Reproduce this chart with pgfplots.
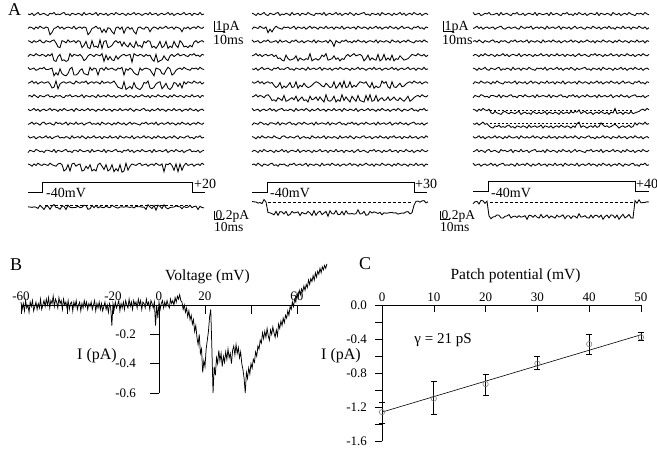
\documentclass[border=0pt]{standalone}
\usepackage{pgfplots}
\pgfplotsset{compat=1.18}
\usepackage{pgfplotstable}
\usepackage{fontspec}
\setmainfont{Liberation Serif}
\newcommand\fs[1]{\fontsize{#1}{#1}\selectfont}

% Panel A: noise patterns (n*), channel openings (o*), voltage step (st); one row per pattern, 89 samples
\pgfplotstableread[header=false]{
n1 0 1 -1 2 0 -2 1 0 -1 1  2 -1 0 -2 1 0 1 -1 -2 1  0 2 -1 0 1 -1 0 2 -2 1  0 -1 1 0 -2 2 -1 0 1 -1  2 0 -1 1 -2 0 1 -1 0 2  -1 1 0 -2 1 -1 0 2 0 -1  1 -2 1 0 -1 2 0 -1 1 0  -2 1 -1 2 0 -1 1 0 -2 1  0 -1 2 -1 0 1 -2 1 0
n2 1 -1 0 2 -1 1 -2 0 1 -1  0 2 -1 1 0 -2 1 -1 2 0  -1 0 1 -2 2 0 -1 1 -1 0  2 -1 1 0 -2 1 0 -1 2 -1  0 1 -2 1 0 -1 2 -1 0 1  -1 2 0 -2 1 0 -1 1 2 -1  0 -2 1 -1 0 2 -1 1 0 -2  1 0 -1 2 -1 0 1 -2 0 1  -1 2 0 -1 1 -2 0 1 -1
n3 -1 0 2 -1 1 0 -2 1 2 -1  0 1 -1 -2 2 0 1 -1 0 2  -2 1 0 -1 2 -1 0 1 -2 0  1 2 -1 0 -1 1 -2 2 0 -1  1 0 -2 1 -1 2 0 -1 1 -2  0 2 -1 1 0 -1 -2 1 0 2  -1 0 1 -1 2 -2 0 1 -1 0  2 -1 1 0 -2 1 -1 2 0 -1  1 -2 0 1 -1 2 0 -1 1
n4 2 -1 0 1 -2 0 1 -1 0 2  -1 1 -2 0 1 2 -1 0 -1 1  0 -2 2 -1 0 1 -1 2 0 -2  1 -1 0 2 -1 0 1 -2 1 0  -1 2 -1 0 1 -2 2 0 -1 1  0 -1 2 -2 0 1 -1 0 2 -1  1 0 -2 1 -1 2 0 -1 1 -2  0 1 -1 2 0 -2 1 0 -1 1  2 -1 0 -2 1 0 2 -1 0
n5 -2 1 0 -1 2 1 -1 0 -2 1  1 0 -1 2 -2 1 0 -1 1 2  -1 0 -2 1 1 -1 2 0 -1 0  1 -2 2 -1 0 1 0 -1 2 -2  1 0 -1 1 2 -1 0 -2 1 0  2 -1 1 -2 0 1 -1 2 0 -1  0 1 -2 2 -1 0 1 -1 0 2  -2 0 1 -1 2 0 -1 1 -2 0  1 2 -1 0 -1 1 -2 0 1
n6 1 0 -2 1 -1 2 0 -1 1 0  -1 2 0 -1 -2 1 2 0 -1 1  0 -1 1 2 -2 0 1 -1 0 -2  2 0 -1 1 -1 0 2 -2 1 0  -1 1 0 -2 2 -1 0 1 -1 2  0 -2 1 0 -1 1 2 -1 0 1  -2 0 1 -1 2 0 -1 1 -2 1  0 2 -1 0 1 -2 1 0 -1 2  -1 0 1 -2 0 1 -1 2 0
o12 0 0 0 0 0 0 0 0 0 0  0 1 1 0 0 0 0 0 0 0  0 0 0 0 0 0 0 0 0 0  1 1 0 0 0 0 0 1 0 1  0 0 1 1 0 0 0 0 1 0  0 0 0 1 1 0 0 0 0 0  0 1 0 0 0 0 0 0 0 0  0 0 0 0 0 0 0 1 0 0  0 0 0 0 0 0 0 0 0
o13 0 0 0 0 0 0 0 0 0 0  0 0 0 0 0 1 1 0 0 0  0 0 0 0 0 0 0 1 1 0  1 1 0 1 1 1 0 1 0 0  1 1 1 0 0 0 0 1 0 1  1 0 1 1 0 1 1 1 0 0  0 0 1 1 1 1 0 1 1 0  1 1 1 0 1 1 0 0 1 1  1 1 1 0 0 0 0 0 0
o14 0 0 0 0 0 0 0 0 0 0  0 0 0 1 1 0 0 1 1 1  1 0 0 0 0 0 0 0 1 1  0 0 0 0 0 0 0 0 1 0  1 0 1 1 0 1 0 0 0 0  0 0 1 0 0 0 0 0 0 0  0 0 1 1 0 1 1 1 0 1  1 0 0 0 0 0 0 0 0 0  0 0 0 0 0 0 0 0 0
o15 0 0 0 0 0 0 0 0 0 0  0 0 0 1 1 1 0 1 1 1  1 0 0 1 1 1 0 0 1 1  1 0 0 0 0 1 0 0 0 0  0 0 0 0 0 0 0 0 1 0  0 0 0 1 1 1 0 0 0 0  0 0 1 1 0 0 0 1 1 0  0 0 1 1 0 0 0 0 0 0  0 0 0 0 0 0 0 0 0
o16 0 0 0 0 0 0 0 0 0 0  0 0 1 1 0 1 0 0 0 0  0 0 0 0 0 0 0 0 0 0  0 0 0 0 0 0 0 0 0 0  0 0 0 0 0 1 1 1 0 1  1 1 1 0 1 1 1 1 0 0  0 1 1 1 0 0 0 1 1 0  1 1 1 0 0 1 0 1 0 0  0 0 0 0 0 0 0 0 0
o1c 0 0 0 0 0 0 0 0 0 0  0 0 0 0 0 0 0 0 1 1  0 1 0 0 0 0 0 1 1 0  1 0 1 1 1 0 0 0 1 0  1 1 0 1 1 1 0 1.5 1 0  1 0 0 0 0 0 0 0 0 0  0 0 0 0 0 0 0 0 1 0  0 0 0 1 0 1 0 1 0 0  0 0 0 0 0 0 0 0 0
o22 0 0 0 0 0 0 0 0 1 0  1 0 0 0 0 0 0 0 0 0  0 0 0 0 0 0 0 0 0 0  0 0 0 0 0 0 0 0 0 0  0 0 0 0 0 0 0 0 0 0  0 0 0 0 0 0 0 0 0 0  0 0 0 0 0 0 0 0 0 0  0 0 0 0 0 0 0 0 0 0  0 0 0 0 0 0 0 0 0
o23 0 0 0 0 0 0 0 0 0 0  0 0 0 0 0 0 0 0 0 0  0 0 0 0 0 0 0 0 0 0  0 0 0 0 0 0 0 0 0 0  0 1 0 0 0 0 0 0 0 0  0 0 0 0 0 0 0 0 0 0  0 0 0 0 0 0 0 0 0 0  0 0 0 0 0 0 0 0 0 0  0 0 0 0 0 0 0 0 0
o24 0 0 0 0 0 0 0 0 0 0  0 0 0 1 1 1 1 0 1 1  1 1 0 1 1 1 1 1 1 0  1 1 1 1 1 0 0 0 1 1  1 0 1 1 1 1 1 0 0 0  0 0 0 0 0 0 1 1 0 1  1 1 1 0 1 1 0 1 1 1  0 1 1 1 0 1 1 1 1 0  0 0 0 0 0 0 0 0 0
o26 0 0 0 0 0 0 0 0 0 0  0 1 1 1 0 1 1 1 1 0  1 1 0 1 1 1 0 1 1 1  1 0 0 0 0 1 1 0 1 1  1 0 1 1 0 1 0 1 1 0  1 1 1 0 0 0 0 0 1 1  0 1 1 1 1 0 0 0 1 1  0 1 1 1 0 1 1 0 0 0  0 0 0 0 0 0 0 0 0
o27 0 0 0 0 0 0 0 0 0 0  1 1 1 0 1 1 0 1 1 1  0 1 0 1 1 0 1 1 1 0  1 1 0 1 0 1 1 0 1 1  1 0 1 1 1 0 1 0 1 1  0 1 1 0 1 1 1 0 1 0  1 1 0 1 1 0 1 1 0 1  1 0 1 1 0 1 1 1 0 1  1 0 0 0 0 0 0 0 0
o38 0 0 0 0 0 0 0 0 0 1  1 1 1 1 1 1 1 1 1 1  1 1 1 1 1 1 1 1 1 1  1 1 1 1 1 1 1 1 1 1  1 1 1 1 1 1 1 1 1 1  1 0 1 0 1 1 1 1 1 1  1 1 1 1 1 1 1 1 1 1  1 0 1 1 1 1 1 1 1 1  1 1 1 0 0 0 0 0 0
o39 0 0 0 0 0 0 0 0 1 1  1 1 1 1 1 1 1 1 1 1  1 1 1 1 1 1 1 1 1 1  1 1 1 1 1 1 1 1 1 1  1 1 1 1 1 1 1 1 1 1  1 1 0 0 1 1 1 1 1 1  1 1 1 1 0 0 1 1 1 1  1 0 1 1 1 1 1 1 1 1  1 0 0 0 0 0 0 0 0
st 0 0 0 0 0 0 0 0 1 1  1 1 1 1 1 1 1 1 1 1  1 1 1 1 1 1 1 1 1 1  1 1 1 1 1 1 1 1 1 1  1 1 1 1 1 1 1 1 1 1  1 1 1 1 1 1 1 1 1 1  1 1 1 1 1 1 1 1 1 1  1 1 1 1 1 1 1 1 1 1  1 0 0 0 0 0 0 0 0
}\Araw
\pgfplotstabletranspose[colnames from=0]{\Atab}{\Araw}

\tikzset{tr/.style={black, line width=0.85pt, no marks, line join=miter}}
\newcommand\trA[4]{\addplot[tr] table[x expr={#1+2*\coordindex}, y expr={#2+(#3)*\thisrow{#4}}] {\Atab};}
\newcommand\trO[6]{\addplot[tr] table[x expr={#1+2*\coordindex}, y expr={#2+(#3)*\thisrow{#4}+(#6)*\thisrow{#5}}] {\Atab};}

\begin{document}
\begin{tikzpicture}
\path[use as bounding box] (0pt,0pt) rectangle (657pt,-450pt);

% ---------------- Panel A ----------------
\begin{axis}[at={(0pt,0pt)}, anchor=north west, scale only axis, width=657pt, height=235pt,
  xmin=0, xmax=657, ymin=0, ymax=235, y dir=reverse, hide axis, clip=false]
% group 1 (+20 mV)
\trA{28}{14}{0.75}{n1}
\trO{28}{27.7}{0.75}{n2}{o12}{5.5}
\trO{28}{41.4}{0.75}{n3}{o13}{5.5}
\trO{28}{55.1}{0.75}{n4}{o14}{5.5}
\trO{28}{68.8}{0.75}{n5}{o15}{5.5}
\trO{28}{82.5}{0.75}{n6}{o16}{5.5}
\trA{28}{96.2}{-0.75}{n1}
\trA{28}{109.9}{-0.75}{n2}
\trA{28}{123.6}{-0.75}{n3}
\trA{28}{137.3}{-0.75}{n4}
\trA{28}{151}{-0.75}{n5}
\trO{28}{164.7}{-0.75}{n6}{o1c}{5.5}
% group 2 (+30 mV)
\trA{252}{14}{0.75}{n3}
\trO{252}{27.7}{0.75}{n4}{o22}{5}
\trO{252}{41.4}{0.75}{n5}{o23}{5}
\trO{252}{55.1}{0.75}{n6}{o24}{4.3}
\trA{252}{68.8}{0.75}{n1}
\trO{252}{82.5}{-0.75}{n2}{o26}{4.3}
\trO{252}{96.2}{-0.75}{n3}{o27}{4.3}
\trA{252}{109.9}{-0.75}{n4}
\trA{252}{123.6}{-0.75}{n5}
\trA{252}{137.3}{-0.75}{n6}
\trA{252}{151}{0.75}{n2}
\trA{252}{164.7}{-0.75}{n1}
% group 3 (+40 mV)
\trA{473}{14}{0.75}{n5}
\trA{473}{27.7}{0.75}{n6}
\trA{473}{41.4}{-0.75}{n1}
\trA{473}{55.1}{0.75}{n2}
\trA{473}{68.8}{0.75}{n3}
\trA{473}{82.5}{0.75}{n4}
\trA{473}{96.2}{-0.75}{n5}
\trO{473}{109.9}{-0.75}{n6}{o38}{3}
\trO{473}{123.6}{0.75}{n1}{o39}{3}
\trA{473}{137.3}{-0.75}{n2}
\trA{473}{151}{-0.75}{n3}
\trA{473}{164.7}{-0.75}{n4}
\addplot[black, line width=0.4pt, dash pattern=on 2pt off 2pt] coordinates {(490,109.9) (632,109.9)};
\addplot[black, line width=0.4pt, dash pattern=on 2pt off 2pt] coordinates {(490,123.6) (632,123.6)};
% voltage protocols
\addplot[black, line width=0.5pt] coordinates {(28,192.5) (42,192.5) (42,182.5) (192,182.5) (192,192.5) (205,192.5)};
\addplot[black, line width=0.5pt] coordinates {(252,192) (267,192) (267,182.5) (414,182.5) (414,192) (427,192)};
\addplot[black, line width=0.5pt] coordinates {(473,191.5) (488,191.5) (488,181) (635,181) (635,191.5) (649,191.5)};
% averaged currents
\addplot[tr] table[x expr={28+2*\coordindex}, y expr={207+0.9*\thisrow{n3}+0.7*\thisrow{n6}}] {\Atab};
\addplot[tr] table[x expr={252+2*\coordindex}, y expr={202+11*\thisrow{st}+0.9*\thisrow{n2}+0.7*\thisrow{n5}}] {\Atab};
\addplot[tr] table[x expr={473+2*\coordindex}, y expr={202+14.5*\thisrow{st}+0.8*\thisrow{n4}+0.6*\thisrow{n1}}] {\Atab};
\addplot[black, line width=0.4pt, dash pattern=on 2.5pt off 2.5pt] coordinates {(45,205) (190,205)};
\addplot[black, line width=0.4pt, dash pattern=on 2.5pt off 2.5pt] coordinates {(268,202) (412,202)};
\addplot[black, line width=0.4pt, dash pattern=on 2.5pt off 2.5pt] coordinates {(490,202) (633,202)};
% scale bars
\addplot[black, line width=0.5pt] coordinates {(214,21) (214,31) (225,31)};
\addplot[black, line width=0.5pt] coordinates {(443,21) (443,31) (454,31)};
\addplot[black, line width=0.5pt] coordinates {(214,211) (214,219) (224,219)};
\addplot[black, line width=0.5pt] coordinates {(440,211) (440,219) (450,219)};
\node[anchor=base west, inner sep=0pt, font=\fs{14}] at (215.5,30) {1pA};
\node[anchor=base west, inner sep=0pt, font=\fs{14}] at (213,44) {10ms};
\node[anchor=base west, inner sep=0pt, font=\fs{14}] at (444.5,30) {1pA};
\node[anchor=base west, inner sep=0pt, font=\fs{14}] at (442,44) {10ms};
\node[anchor=base west, inner sep=0pt, font=\fs{13.5}] at (215.5,219) {0.2pA};
\node[anchor=base west, inner sep=0pt, font=\fs{13.5}] at (214,231) {10ms};
\node[anchor=base west, inner sep=0pt, font=\fs{13.5}] at (441.5,219) {0.2pA};
\node[anchor=base west, inner sep=0pt, font=\fs{13.5}] at (440,231) {10ms};
\node[anchor=base west, inner sep=0pt, font=\fs{14}] at (46,197) {-40mV};
\node[anchor=base west, inner sep=0pt, font=\fs{14}] at (270,197) {-40mV};
\node[anchor=base west, inner sep=0pt, font=\fs{14}] at (491,197) {-40mV};
\node[anchor=base west, inner sep=0pt, font=\fs{14}] at (194,188) {+20};
\node[anchor=base west, inner sep=0pt, font=\fs{14}] at (415,188) {+30};
\node[anchor=base west, inner sep=0pt, font=\fs{14}] at (636,188) {+40};
\node[anchor=base west, inner sep=0pt, font=\fs{18}] at (8,15) {A};
\end{axis}

% ---------------- Panel B ----------------
\begin{axis}[at={(21pt,-393pt)}, anchor=south west, scale only axis, width=299pt, height=88pt,
  xmin=-60, xmax=70, ymin=-0.6, ymax=0, clip=false,
  axis x line=top, axis y line=middle, axis line style={-, line width=0.6pt},
  xtick={-60,-40,-20,0,20,40,60}, xticklabels={-60,,-20,0,20,,60},
  ytick={-0.6,-0.4,-0.2}, yticklabels={-0.6,-0.4,-0.2},
  tick align=center, major tick length=9pt,
  x tick style={yshift=-4.5pt, black, line width=0.6pt}, y tick style={xshift=-4.5pt, black, line width=0.6pt},
  ticklabel style={font=\fs{13}},
  yticklabel style={anchor=east, xshift=-15pt},
  xticklabel style={anchor=base, yshift=0pt}]
\addplot[black, line width=0.75pt, no marks, line join=miter] table[row sep=\\, header=false, x expr={-60+0.5*\coordindex}, y index=0] {
0.02\\-0.03\\0.01\\-0.04\\0.03\\-0.02\\0.00\\-0.05\\0.02\\-0.01\\0.03\\-0.04\\-0.01\\0.02\\-0.03\\0.01\\-0.02\\0.04\\-0.03\\0.00\\
0.03\\-0.01\\0.04\\0.00\\0.05\\-0.02\\0.03\\0.01\\0.06\\-0.01\\0.04\\0.02\\-0.02\\0.05\\0.01\\0.03\\-0.03\\0.04\\0.00\\0.02\\
-0.02\\0.03\\-0.03\\0.01\\0.02\\-0.04\\0.02\\-0.01\\0.03\\-0.03\\0.00\\0.02\\-0.04\\0.01\\-0.02\\0.03\\-0.01\\0.02\\-0.03\\0.01\\
-0.01\\0.02\\-0.03\\0.00\\0.03\\-0.04\\0.01\\-0.02\\0.02\\-0.03\\0.01\\-0.04\\-0.01\\0.02\\-0.03\\0.00\\-0.05\\0.01\\-0.02\\-0.14\\
0.01\\-0.03\\0.02\\-0.02\\0.00\\0.03\\-0.04\\0.01\\-0.02\\0.02\\-0.03\\0.03\\0.00\\-0.02\\0.04\\-0.01\\0.02\\-0.03\\0.03\\0.00\\
0.02\\-0.02\\0.04\\0.00\\0.03\\-0.03\\0.02\\0.01\\-0.02\\0.04\\0.00\\0.02\\-0.03\\0.03\\0.01\\-0.02\\0.02\\-0.14\\0.00\\-0.09\\
0.02\\-0.03\\0.01\\0.03\\-0.02\\0.02\\-0.01\\0.03\\0.00\\-0.02\\0.04\\0.01\\0.03\\0.00\\0.05\\0.02\\0.06\\
0.04\\0.07\\0.03\\0.02\\-0.03\\0.00\\-0.05\\-0.02\\-0.08\\-0.04\\-0.10\\-0.07\\-0.13\\-0.10\\
-0.18\\-0.14\\-0.22\\-0.27\\-0.20\\-0.33\\-0.30\\-0.46\\-0.38\\-0.42\\-0.30\\-0.24\\-0.18\\-0.08\\-0.03\\-0.30\\-0.60\\-0.42\\-0.48\\-0.36\\
-0.40\\-0.31\\-0.38\\-0.33\\-0.42\\-0.35\\-0.39\\-0.32\\-0.37\\-0.30\\-0.36\\-0.33\\-0.40\\-0.31\\-0.28\\-0.34\\-0.27\\-0.33\\-0.29\\-0.36\\
-0.32\\-0.40\\-0.44\\-0.50\\-0.60\\-0.46\\-0.50\\-0.43\\-0.47\\-0.40\\-0.43\\-0.37\\-0.39\\-0.32\\-0.35\\-0.28\\-0.30\\-0.24\\-0.26\\-0.19\\
-0.23\\-0.18\\-0.22\\-0.16\\-0.21\\-0.24\\-0.17\\-0.20\\-0.15\\-0.19\\-0.22\\-0.17\\-0.21\\-0.13\\-0.16\\-0.11\\-0.14\\-0.09\\-0.12\\-0.07\\
-0.09\\-0.04\\-0.07\\-0.01\\-0.03\\0.02\\-0.01\\0.04\\0.02\\0.08\\0.05\\0.10\\0.07\\0.11\\0.09\\0.13\\0.10\\0.14\\0.12\\0.17\\
0.14\\0.18\\0.16\\0.20\\0.17\\0.22\\0.19\\0.23\\0.21\\0.25\\0.22\\0.26\\0.24\\0.27\\0.25\\0.28\\
};
\end{axis}

% ---------------- Panel C ----------------
\begin{axis}[at={(382pt,-441pt)}, anchor=south west, scale only axis, width=259pt, height=136pt,
  xmin=0, xmax=50, ymin=-1.6, ymax=0, clip=false,
  axis x line=top, axis y line=left, axis line style={-, line width=0.6pt},
  xtick={0,10,20,30,40,50}, xticklabels={0,10,20,30,40,50},
  ytick={-1.6,-1.2,-0.8,-0.4,0}, yticklabels={-1.6,-1.2,-0.8,-0.4,0.0},
  minor ytick={-1.4,-1.0,-0.6,-0.2},
  tick align=center, major tick length=7pt, minor tick length=7pt,
  x tick style={yshift=-3.5pt, black, line width=0.6pt}, y tick style={xshift=-3.5pt, black, line width=0.6pt},
  ticklabel style={font=\fs{13}},
  yticklabel style={anchor=east, xshift=-8pt},
  xticklabel style={anchor=base}]
\addplot[black, line width=0.6pt] coordinates {(0,-1.26) (50,-0.35)};
\addplot[only marks, mark=o, mark size=2.7pt, mark options={draw=gray, line width=0.6pt},
  error bars/.cd, y dir=both, y explicit,
  error bar style={black, line width=0.7pt},
  error mark options={rotate=90, black, mark size=3pt, line width=0.7pt}]
  coordinates {
  (0,-1.26) += (0,0.12) -= (0,0.13)
  (10,-1.10) += (0,0.20) -= (0,0.19)
  (20,-0.93) += (0,0.12) -= (0,0.13)
  (30,-0.69) += (0,0.09) -= (0,0.07)
  (40,-0.46) += (0,0.12) -= (0,0.12)
  (50,-0.38) += (0,0.06) -= (0,0.04)
  };
\end{axis}

% ---------------- texts ----------------
\node[anchor=base west, inner sep=0pt, font=\fs{18}] at (10pt,-270pt) {B};
\node[anchor=base west, inner sep=0pt, font=\fs{18}] at (359pt,-269pt) {C};
\node[font=\fs{15.5}] at (207.5pt,-277pt) {Voltage (mV)};
\node[font=\fs{16}] at (97pt,-356pt) {I (pA)};
\node[font=\fs{15.5}] at (515.5pt,-276pt) {Patch potential (mV)};
\node[font=\fs{16}] at (341pt,-356pt) {I (pA)};
\node[font=\fs{15}] at (443pt,-340pt) {γ = 21 pS};
\end{tikzpicture}
\end{document}
